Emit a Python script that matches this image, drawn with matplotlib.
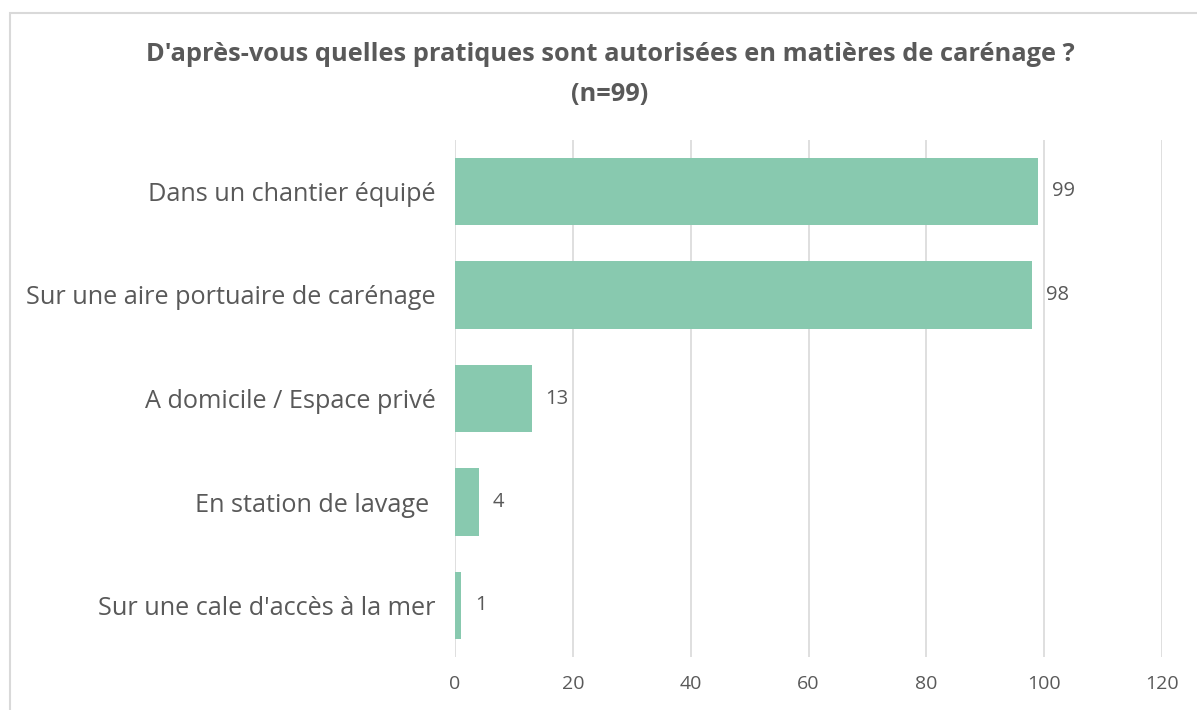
import matplotlib
matplotlib.use("Agg")
import matplotlib.pyplot as plt
from matplotlib.patches import Rectangle

categories = [
    "Dans un chantier équipé",
    "Sur une aire portuaire de carénage",
    "A domicile / Espace privé",
    "En station de lavage ",
    "Sur une cale d'accès à la mer",
]
values = [99, 98, 13, 4, 1]
xticks = [0, 20, 40, 60, 80, 100, 120]

title = "D'après-vous quelles pratiques sont autorisées en matières de carénage ?\n(n=99)"

bar_color = "#88C9AF"
text_color = "#595959"
grid_color = "#D9D9D9"

plt.rcParams['font.family'] = ['Open Sans', 'DejaVu Sans']

fig = plt.figure(figsize=(11.97, 7.10), dpi=100)
ax = fig.add_axes([455 / 1197, 52.75 / 710, 707 / 1197, 517.5 / 710])

# cadre du graphique (seuls les bords haut et gauche sont visibles)
fig.patches.append(Rectangle((10 / 1197, -0.2), 1.2, 1.2 - 13 / 710,
                             transform=fig.transFigure, fill=False,
                             edgecolor=grid_color, linewidth=1.5))

y = list(range(len(categories)))
ax.barh(y, values, height=0.65, color=bar_color, zorder=3)

for yi, v in zip(y, values):
    ax.annotate(str(v), (v, yi), xytext=(10, 0), textcoords="offset points",
                va="center", ha="left", fontsize=14.5, color=text_color)

ax.set_xlim(0, 120)
ax.set_ylim(len(categories) - 0.5, -0.5)
ax.set_xticks(xticks)
ax.set_yticks(y)
ax.set_yticklabels(categories, fontsize=18.2, color=text_color)
ax.tick_params(axis="x", labelsize=14, colors=text_color, length=0, pad=13)
ax.tick_params(axis="y", length=0, pad=14)
ax.grid(axis="x", color=grid_color, linewidth=1.2, zorder=0)
for s in ax.spines.values():
    s.set_visible(False)

fig.text(610 / 1197, 1 - 74.5 / 710, title, ha="center", va="center",
         fontsize=18.3, fontweight="bold", color=text_color, linespacing=1.75)

fig.savefig("out.png", dpi=100)
